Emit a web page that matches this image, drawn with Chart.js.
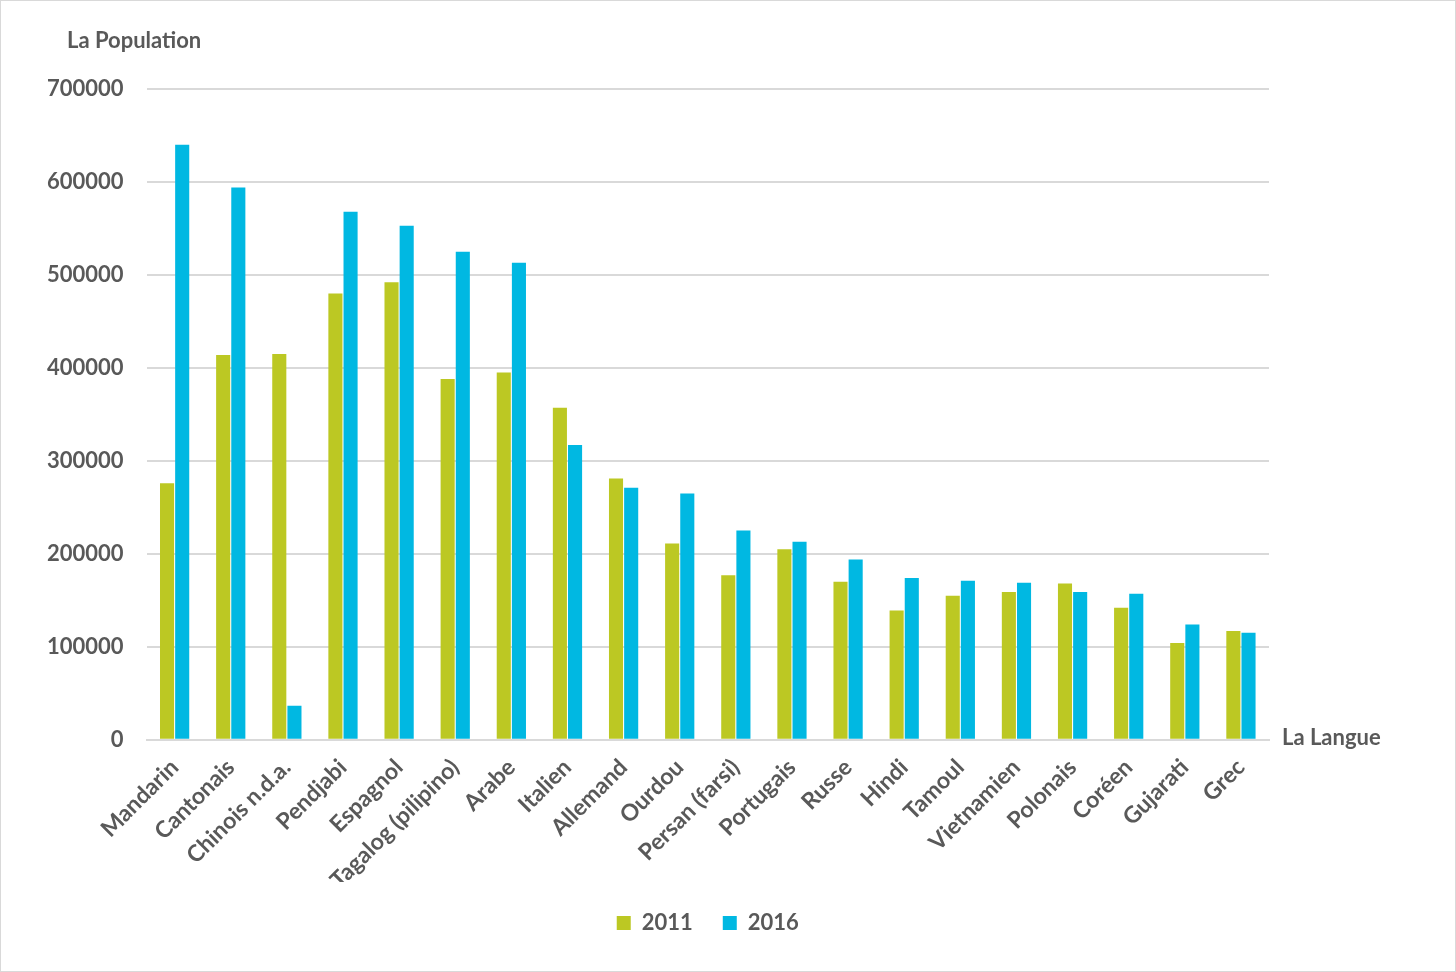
<!DOCTYPE html>
<html>
<head>
<meta charset="utf-8">
<script src="https://cdn.jsdelivr.net/npm/chart.js@4"></script>
<style>
  html, body { margin: 0; padding: 0; background: #fff; }
  #wrap { position: absolute; left: 0; top: 0; width: 1454px; height: 970px; border: 1px solid #d9d9d9; }
</style>
</head>
<body>
<div id="wrap"><canvas id="chart" width="1454" height="970"></canvas></div>
<script>
var langues = ['Mandarin', 'Cantonais', 'Chinois n.d.a.', 'Pendjabi', 'Espagnol', 'Tagalog (pilipino)',
  'Arabe', 'Italien', 'Allemand', 'Ourdou', 'Persan (farsi)', 'Portugais', 'Russe', 'Hindi',
  'Tamoul', 'Vietnamien', 'Polonais', 'Coréen', 'Gujarati', 'Grec'];
var pop2011 = [276000, 414000, 415000, 480000, 492000, 388000, 395000, 357000, 281000, 211000,
  177000, 205000, 170000, 139000, 155000, 159000, 168000, 142000, 104000, 117000];
var pop2016 = [640000, 594000, 36600, 568000, 553000, 525000, 513000, 317000, 271000, 265000,
  225000, 213000, 194000, 174000, 171000, 169000, 159000, 157000, 124000, 115000];

var textColor = '#595959';
var fontFam = 'Lato, "Open Sans", sans-serif';

var axisTitles = {
  id: 'axisTitles',
  afterDraw: function(chart) {
    var ctx = chart.ctx;
    var area = chart.chartArea;
    ctx.save();
    ctx.fillStyle = textColor;
    ctx.font = 'bold 22px ' + fontFam;
    ctx.textBaseline = 'middle';
    ctx.textAlign = 'left';
    ctx.fillText('La Population', 66, 40);
    ctx.fillText('La Langue', area.right + 13, area.bottom - 2);
    ctx.restore();
  }
};

var ctx = document.getElementById('chart').getContext('2d');
var chart = new Chart(ctx, {
  type: 'bar',
  data: {
    labels: langues,
    datasets: [{
      label: '2011',
      data: pop2011,
      backgroundColor: '#BCC823'
    }, {
      label: '2016',
      data: pop2016,
      backgroundColor: '#00B8E2'
    }]
  },
  options: {
    responsive: false,
    animation: false,
    layout: {
      padding: { left: 23, right: 186, top: 88, bottom: 27 }
    },
    datasets: {
      bar: { categoryPercentage: 0.54, barPercentage: 0.93 }
    },
    scales: {
      x: {
        grid: { display: false, drawTicks: false },
        border: { color: '#d9d9d9', width: 2 },
        afterFit: function(scale) { scale.height -= 26; },
        ticks: {
          color: textColor,
          font: { family: fontFam, size: 23, weight: 'bold' },
          minRotation: 45,
          maxRotation: 45,
          padding: 14,
          autoSkip: false
        }
      },
      y: {
        min: 0,
        max: 700000,
        grid: { color: '#d9d9d9', lineWidth: 2, drawTicks: false },
        border: { display: false },
        ticks: {
          stepSize: 100000,
          color: textColor,
          font: { family: fontFam, size: 22, weight: 'bold' },
          padding: 23,
          callback: function(v) { return String(v); }
        }
      }
    },
    plugins: {
      legend: {
        position: 'bottom',
        fullSize: false,
        labels: {
          color: textColor,
          font: { family: fontFam, size: 22, weight: 'bold' },
          boxWidth: 14,
          boxHeight: 14,
          padding: 30
        }
      },
      tooltip: { enabled: false }
    }
  },
  plugins: [axisTitles]
});
</script>
</body>
</html>
